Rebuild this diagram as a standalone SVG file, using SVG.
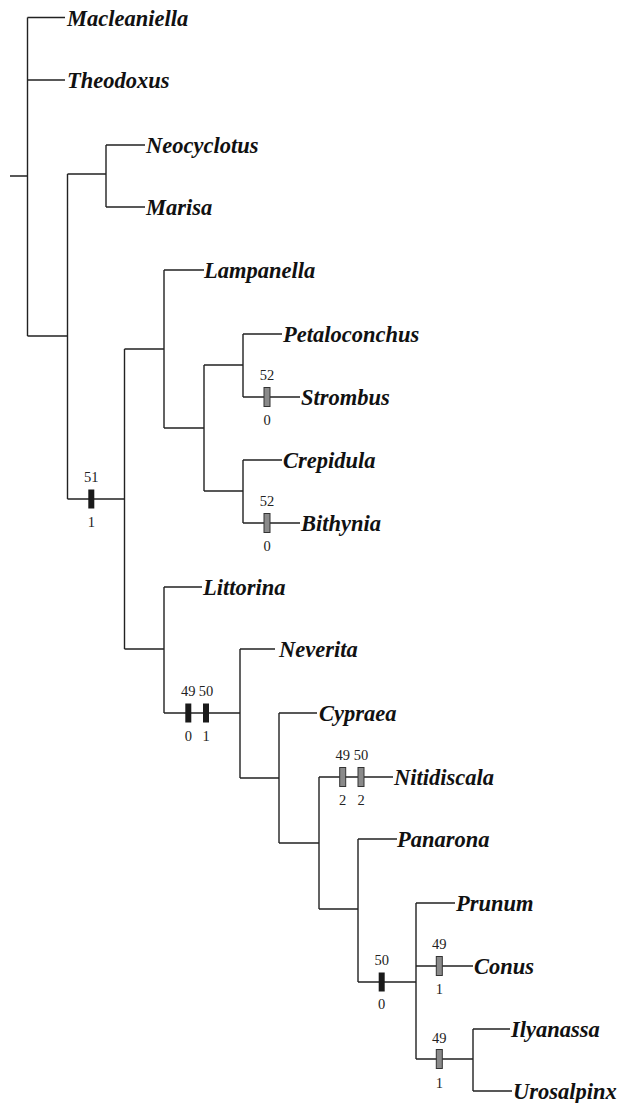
<svg xmlns="http://www.w3.org/2000/svg" width="618" height="1103" viewBox="0 0 618 1103">
<style>
.br{fill:none;stroke:#222;stroke-width:1.4}
.tx{font-family:"Liberation Serif","Times New Roman",serif;font-style:italic;font-weight:bold;font-size:22.5px;fill:#111}
.num{font-family:"Liberation Serif","Times New Roman",serif;font-size:14.5px;fill:#222;text-anchor:middle}
.blk{fill:#1a1a1a}
.gry{fill:#8a8a8a;stroke:#333;stroke-width:1}
</style>
<rect width="618" height="1103" fill="#fff"/>
<g id="connectors" class="br">
<path d="M10,176H27.5M27.5,17.5V336M27.5,17.5H65M27.5,80H65M27.5,336H67.5"/>
<path d="M67.5,174V499M67.5,174H106M106,145V207M106,145H145M106,207H145M67.5,499H124.5"/>
<path d="M124.5,349V649M124.5,349H164M164,270V428M164,270H204M164,428H204"/>
<path d="M204,365V491M204,365H243M243,334V397M243,334H282M243,397H300"/>
<path d="M204,491H243M243,460V523M243,460H282M243,523H300"/>
<path d="M124.5,649H164M164,587V713M164,587H202M164,713H240"/>
<path d="M240,649V778M240,649H275M240,778H279M279,713V843M279,713H317M279,843H319"/>
<path d="M319,777V909M319,777H393M319,909H358M358,839V982M358,839H397M358,982H416"/>
<path d="M416,903V1059M416,903H455M416,966H473M416,1059H473M473,1029V1091M473,1029H510M473,1091H512"/>
</g>
<g id="taxa">
<g id="n-macleaniella"><text class="tx" x="67" y="25.5">Macleaniella</text></g>
<g id="n-theodoxus"><text class="tx" x="67" y="88">Theodoxus</text></g>
<g id="n-neocyclotus"><text class="tx" x="146" y="153">Neocyclotus</text></g>
<g id="n-marisa"><text class="tx" x="146" y="215">Marisa</text></g>
<g id="n-lampanella"><text class="tx" x="204" y="278">Lampanella</text></g>
<g id="n-petaloconchus"><text class="tx" x="283" y="342">Petaloconchus</text></g>
<g id="n-strombus"><text class="tx" x="301" y="405">Strombus</text></g>
<g id="n-crepidula"><text class="tx" x="283" y="468">Crepidula</text></g>
<g id="n-bithynia"><text class="tx" x="301" y="531">Bithynia</text></g>
<g id="n-littorina"><text class="tx" x="203" y="595">Littorina</text></g>
<g id="n-neverita"><text class="tx" x="279" y="657">Neverita</text></g>
<g id="n-cypraea"><text class="tx" x="319" y="721">Cypraea</text></g>
<g id="n-nitidiscala"><text class="tx" x="394" y="785">Nitidiscala</text></g>
<g id="n-panarona"><text class="tx" x="397" y="847">Panarona</text></g>
<g id="n-prunum"><text class="tx" x="456" y="911">Prunum</text></g>
<g id="n-conus"><text class="tx" x="474" y="974">Conus</text></g>
<g id="n-ilyanassa"><text class="tx" x="511" y="1037">Ilyanassa</text></g>
<g id="n-urosalpinx"><text class="tx" x="513" y="1099">Urosalpinx</text></g>
</g>
<g id="characters">
<g id="c-51"><rect class="blk" x="88.3" y="489.5" width="6" height="19"/><text class="num" x="91.3" y="482">51</text><text class="num" x="91.3" y="527">1</text></g>
<g id="c-52a"><rect class="gry" x="264" y="387.5" width="6" height="19"/><text class="num" x="267" y="380">52</text><text class="num" x="267" y="425">0</text></g>
<g id="c-52b"><rect class="gry" x="264" y="513.5" width="6" height="19"/><text class="num" x="267" y="506">52</text><text class="num" x="267" y="551">0</text></g>
<g id="c-49a"><rect class="blk" x="185.3" y="703.5" width="6" height="19"/><text class="num" x="188.3" y="696">49</text><text class="num" x="188.3" y="741">0</text></g>
<g id="c-50a"><rect class="blk" x="203" y="703.5" width="6" height="19"/><text class="num" x="206" y="696">50</text><text class="num" x="206" y="741">1</text></g>
<g id="c-49b"><rect class="gry" x="339.7" y="767.5" width="6" height="19"/><text class="num" x="342.7" y="760">49</text><text class="num" x="342.7" y="805">2</text></g>
<g id="c-50b"><rect class="gry" x="358" y="767.5" width="6" height="19"/><text class="num" x="361" y="760">50</text><text class="num" x="361" y="805">2</text></g>
<g id="c-50c"><rect class="blk" x="378.7" y="972.5" width="6" height="19"/><text class="num" x="381.7" y="965">50</text><text class="num" x="381.7" y="1009">0</text></g>
<g id="c-49c"><rect class="gry" x="436.3" y="956.5" width="6" height="19"/><text class="num" x="439.3" y="949">49</text><text class="num" x="439.3" y="994">1</text></g>
<g id="c-49d"><rect class="gry" x="436.3" y="1049.5" width="6" height="19"/><text class="num" x="439.3" y="1043">49</text><text class="num" x="439.3" y="1088">1</text></g>
</g>
</svg>
